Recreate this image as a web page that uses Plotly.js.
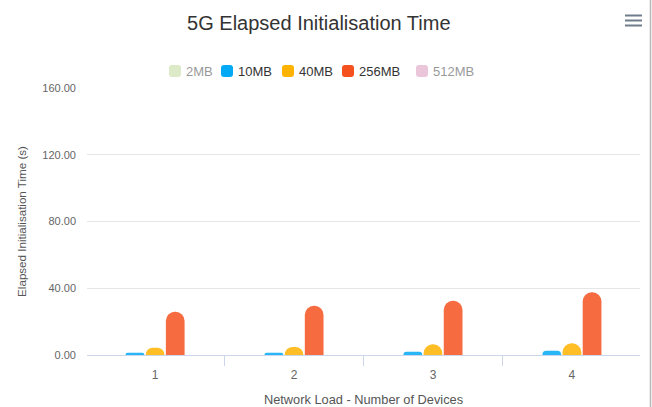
<!DOCTYPE html>
<html>
<head>
<meta charset="utf-8">
<script src="https://cdn.plot.ly/plotly-3.0.1.min.js"></script>
<style>
  html, body { margin: 0; padding: 0; background: #fff; }
  #chart { width: 652px; height: 407px; }
</style>
</head>
<body>
<div id="chart"></div>
<script>
// Network load (number of devices) on the category axis
const deviceCounts = ['1', '2', '3', '4'];

// File sizes shown as series
const seriesNames = ['2MB', '10MB', '40MB', '256MB', '512MB'];
const seriesColors = ['#bbd790', '#03a9f4', '#ffb300', '#f4511e', '#d98eb6'];
const seriesShown = [false, true, true, true, false];

// Elapsed initialisation time in seconds, per device count
const time2MB = [null, null, null, null];     // series toggled off
const time10MB = [1.4, 1.4, 2.0, 2.6];
const time40MB = [4.4, 4.8, 6.4, 7.0];
const time256MB = [25.9, 29.5, 32.5, 37.6];
const time512MB = [null, null, null, null];   // series toggled off

const seriesValues = [time2MB, time10MB, time40MB, time256MB, time512MB];

// Horizontal room each legend entry takes beyond its symbol
const legendWidths = [7, 16, 15, 29, 40];

const traces = seriesNames.map((name, i) => ({
  type: 'bar',
  name: name,
  x: deviceCounts,
  y: seriesValues[i],
  visible: seriesShown[i] ? true : 'legendonly',
  legendwidth: legendWidths[i],
  marker: {
    color: seriesColors[i],
    opacity: 0.85,
    cornerradius: 9,
    line: { width: 0 }
  },
  hovertemplate: name + '<br>%{x} devices: %{y:.2f} s<extra></extra>'
}));

const font = '"Liberation Sans", Arial, Helvetica, sans-serif';

// Paper-space helpers for the decorations outside the plot area
const W = 652, H = 407, L = 87, R = 12, T = 88, B = 52;
const pw = W - L - R, ph = H - T - B;
const px = (x) => (x - L) / pw;
const py = (y) => (H - B - y) / ph;

const menuLines = [15.5, 20.5, 25.5].map((y) => ({
  type: 'line', xref: 'paper', yref: 'paper',
  x0: px(625), x1: px(642), y0: py(y), y1: py(y),
  line: { color: '#6f7c8c', width: 2 }
}));

const layout = {
  width: W,
  height: H,
  margin: { l: L, r: R, t: T, b: B, pad: 0 },
  paper_bgcolor: '#ffffff',
  plot_bgcolor: '#ffffff',
  font: { family: font, color: '#333333' },
  title: {
    text: '5G Elapsed Initialisation Time',
    font: { family: font, size: 20, color: '#333333' },
    xref: 'container', x: 0.489, xanchor: 'center',
    yref: 'container', y: 0.944, yanchor: 'middle'
  },
  showlegend: true,
  legend: {
    orientation: 'h',
    xref: 'container', x: 155 / W, xanchor: 'left',
    yref: 'container', y: 1 - 56 / H, yanchor: 'top',
    font: { family: font, size: 13, color: '#333333' },
    bgcolor: 'rgba(0,0,0,0)'
  },
  barmode: 'group',
  bargap: 0.565,
  bargroupgap: 0.07,
  xaxis: {
    type: 'category',
    // a hair inside the outer boundaries so only the inner dividers get ticks
    range: [-0.49, deviceCounts.length - 0.51],
    showline: true,
    linecolor: '#ccd6eb',
    linewidth: 1,
    ticks: 'outside',
    tickson: 'boundaries',
    ticklen: 10,
    tickcolor: '#ccd6eb',
    tickwidth: 1,
    showgrid: false,
    ticklabelstandoff: 9,
    tickfont: { family: font, size: 12, color: '#666666' },
    title: {
      text: 'Network Load - Number of Devices',
      font: { family: font, size: 12.8, color: '#555555' },
      standoff: 13
    }
  },
  yaxis: {
    range: [0, 160],
    dtick: 40,
    tickformat: '.2f',
    showgrid: true,
    gridcolor: '#e6e6e6',
    gridwidth: 1,
    zeroline: false,
    showline: false,
    ticks: '',
    ticklabelstandoff: 10,
    tickfont: { family: font, size: 11, color: '#666666' },
    title: {
      text: 'Elapsed Initialisation Time (s)',
      font: { family: font, size: 11.6, color: '#555555' },
      standoff: 13
    }
  },
  shapes: menuLines.concat([{
    type: 'line', xref: 'paper', yref: 'paper',
    x0: px(650.5), x1: px(650.5), y0: py(H), y1: py(0),
    line: { color: '#b8b8b8', width: 1.5 }
  }])
};

// Pull legend labels closer to their swatches
function tightenLegend(gd) {
  gd.querySelectorAll('.legend .legendtext').forEach((t) => t.setAttribute('x', 31));
}

Plotly.newPlot('chart', traces, layout, { displayModeBar: false, responsive: false })
  .then((gd) => {
    tightenLegend(gd);
    gd.on('plotly_afterplot', () => tightenLegend(gd));
  });
</script>
</body>
</html>
